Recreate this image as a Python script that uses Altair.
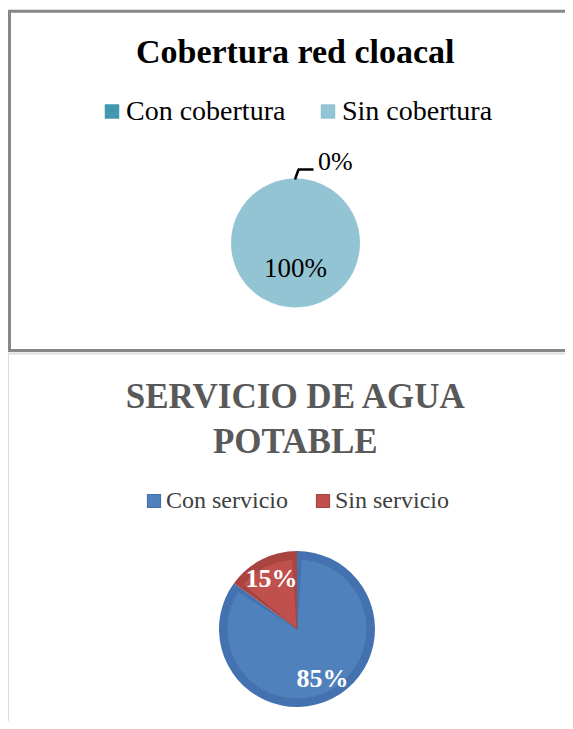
import altair as alt
import pandas as pd

# ---- data ----
TITLE_1 = "Cobertura red cloacal"
CATS_1 = ["Con cobertura", "Sin cobertura"]
VALS_1 = [0, 100]
LABELS_1 = ["0%", "100%"]
COLORS_1 = ["#4198AF", "#93C4D4"]

TITLE_2 = ["SERVICIO DE AGUA", "POTABLE"]
CATS_2 = ["Con servicio", "Sin servicio"]
VALS_2 = [85, 15]
LABELS_2 = ["85%", "15%"]
COLORS_2 = ["#4F81BD", "#C0504D"]
RIMS_2 = ["#4472B0", "#A94440"]

FONT = "Liberation Serif"
W, H = 557, 713

df1 = pd.DataFrame({"cat": CATS_1, "val": VALS_1, "label": LABELS_1})
df2 = pd.DataFrame({"cat": CATS_2, "val": VALS_2, "label": LABELS_2})
one = pd.DataFrame({"k": [0]})
t1 = pd.DataFrame({"t": [TITLE_1]})
t2 = pd.DataFrame({"t": ["\n".join(TITLE_2)]})

C1x, C1y, R1 = 287.5, 235, 64.5
C2x, C2y, R2 = 289, 621, 78

theta = alt.Theta("val:Q", stack=True)
order = alt.Order("cat:N", sort="ascending")

# ---- panel frames ----
border1 = alt.Chart(one).mark_rect(filled=False, stroke="#878787", strokeWidth=3).encode(
    x=alt.value(1.5), x2=alt.value(640), y=alt.value(3.3), y2=alt.value(342.5)
)
frame2_top = alt.Chart(one).mark_rule(color="#DCDCDC", strokeWidth=2).encode(
    x=alt.value(0), x2=alt.value(640), y=alt.value(345.5), y2=alt.value(345.5)
)
frame2_left = alt.Chart(one).mark_rule(color="#DCDCDC", strokeWidth=3).encode(
    x=alt.value(-0.5), x2=alt.value(-0.5), y=alt.value(345), y2=alt.value(760)
)

# ---- panel 1 ----
legend1 = alt.Legend(
    orient="none", legendX=90, legendY=89.5, direction="horizontal", title=None,
    symbolType="square", symbolSize=210, symbolStrokeWidth=0, symbolOpacity=1,
    labelFont=FONT, labelFontSize=28, labelColor="#000000", labelOffset=0,
    columnPadding=28, labelLimit=600, padding=0,
)
pie1 = alt.Chart(df1).mark_arc(outerRadius=R1).encode(
    theta=theta, order=order,
    color=alt.Color("cat:N", scale=alt.Scale(domain=CATS_1, range=COLORS_1), legend=legend1),
    x=alt.value(C1x), y=alt.value(C1y),
)
lab1_in = alt.Chart(df1).transform_filter(alt.datum.cat == CATS_1[1]).mark_text(
    radius=26, font=FONT, fontSize=27, color="#000000"
).encode(theta=theta, order=order, detail="cat:N", text="label:N", x=alt.value(C1x), y=alt.value(C1y))
lab1_out = alt.Chart(df1).transform_filter(alt.datum.cat == CATS_1[0]).mark_text(
    radius=73, font=FONT, fontSize=26, color="#000000", align="left", baseline="alphabetic", dx=22.5
).encode(theta=theta, order=order, detail="cat:N", text="label:N", x=alt.value(C1x), y=alt.value(C1y))
leader_a = alt.Chart(one).mark_rule(color="#000000", strokeWidth=2.5).encode(
    x=alt.value(287), y=alt.value(171.5), x2=alt.value(290.5), y2=alt.value(161.5)
)
leader_b = alt.Chart(one).mark_rule(color="#000000", strokeWidth=2.5).encode(
    x=alt.value(289.8), y=alt.value(161.5), x2=alt.value(305.5), y2=alt.value(161.5)
)
title1 = alt.Chart(t1).mark_text(
    font=FONT, fontSize=34, fontWeight="bold", color="#000000", align="center", baseline="alphabetic"
).encode(text="t:N", x=alt.value(287.2), y=alt.value(54.7))

# ---- panel 2 ----
legend2 = alt.Legend(
    orient="none", legendX=134, legendY=481, direction="horizontal", title=None,
    symbolType="square", symbolSize=169, symbolStrokeWidth=1.2, symbolOpacity=1,
    labelFont=FONT, labelFontSize=24, labelColor="#404040", labelOffset=0,
    columnPadding=23, labelLimit=600, padding=0,
)
pie2_rim = alt.Chart(df2).mark_arc(outerRadius=R2).encode(
    theta=theta, order=order,
    color=alt.Color("cat:N", scale=alt.Scale(domain=CATS_2, range=RIMS_2), legend=None),
    x=alt.value(C2x), y=alt.value(C2y),
)
pie2_in = alt.Chart(df2).mark_arc(outerRadius=R2 - 8, padAngle=0.12).encode(
    theta=theta, order=order,
    color=alt.Color("cat:N", scale=alt.Scale(domain=CATS_2, range=COLORS_2), legend=legend2),
    stroke=alt.Stroke("cat:N", scale=alt.Scale(domain=CATS_2, range=RIMS_2), legend=legend2),
    x=alt.value(C2x), y=alt.value(C2y),
)
lab2 = alt.Chart(df2).mark_text(
    radius=56, font=FONT, fontSize=26, fontWeight="bold", color="#FFFFFF"
).encode(theta=theta, order=order, detail="cat:N", text="label:N", x=alt.value(C2x), y=alt.value(C2y))
title2 = alt.Chart(t2).mark_text(
    font=FONT, fontSize=35, fontWeight="bold", color="#595959", align="center",
    baseline="alphabetic", lineBreak="\n", lineHeight=44.4,
).encode(text="t:N", x=alt.value(287.3), y=alt.value(400.3))

chart = alt.layer(
    border1, frame2_top, frame2_left,
    pie1, lab1_in, lab1_out, leader_a, leader_b, title1,
    pie2_rim, pie2_in, lab2, title2,
).resolve_scale(color="independent", stroke="independent").properties(
    width=W, height=H, autosize=alt.AutoSizeParams(type="none"), padding=0
).configure_view(strokeWidth=0)

chart.save("out.html", embed_options={"renderer": "svg", "actions": False})
